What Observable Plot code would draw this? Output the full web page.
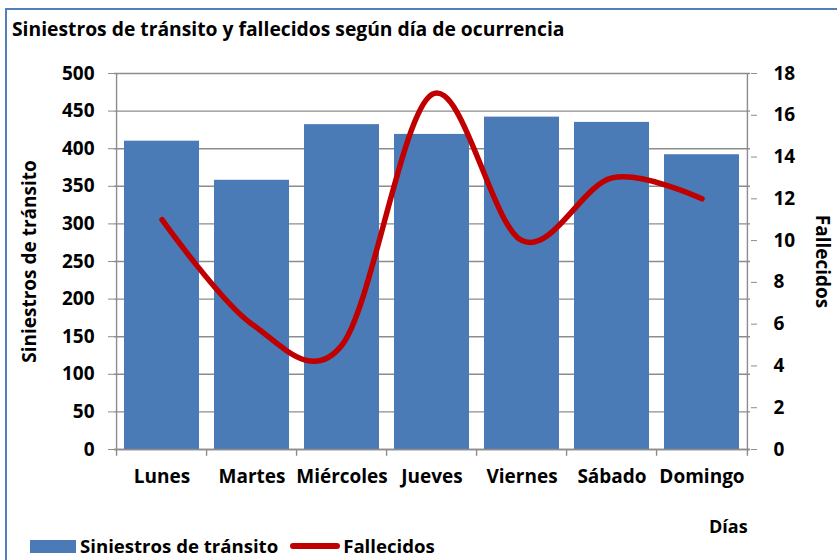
<!DOCTYPE html>
<html>
<head>
<meta charset="utf-8">
<script src="https://cdn.jsdelivr.net/npm/d3@7"></script>
<script src="https://cdn.jsdelivr.net/npm/@observablehq/plot@0.6"></script>
<style>
  html, body { margin: 0; padding: 0; background: #fff; }
  body { width: 837px; height: 560px; overflow: hidden; position: relative; font-family: "Open Sans", sans-serif; font-weight: bold; color: #000; }
  #frame { position: absolute; left: 5px; top: 8px; width: 900px; height: 700px; border: 2px solid #4f7fbd; box-sizing: border-box; }
  #chart { position: absolute; left: 0; top: 0; }
  .t { position: absolute; white-space: nowrap; font-weight: bold; line-height: 1; }
  #title { left: 12px; top: 19px; font-size: 19.3px; }
  #dias { left: 709px; top: 517px; font-size: 18px; }
  #legend { position: absolute; left: 30px; top: 537px; font-size: 18.6px; line-height: 1; display: flex; align-items: center; }
  .sw-bar { width: 46px; height: 13px; background: #4a7bb7; display: inline-block; margin-right: 4px; }
  .sw-line { width: 50px; height: 6px; border-radius: 3px; background: #c00000; display: inline-block; margin: 0 3px 0 12px; }
</style>
</head>
<body>
<div id="frame"></div>
<div id="chart"></div>
<div id="title" class="t">Siniestros de tránsito y fallecidos según día de ocurrencia</div>
<div id="dias" class="t">Días</div>
<div id="legend"><span class="sw-bar"></span><span>Siniestros de tránsito</span><span class="sw-line"></span><span>Fallecidos</span></div>
<script>
const days = ["Lunes", "Martes", "Miércoles", "Jueves", "Viernes", "Sábado", "Domingo"];
const siniestros = [410, 358, 432, 419, 442, 435, 392];
const fallecidos = [11, 6, 5, 17, 10, 13, 12];
const leftTicks = [0, 50, 100, 150, 200, 250, 300, 350, 400, 450, 500];
const rightTicks = [0, 2, 4, 6, 8, 10, 12, 14, 16, 18];

const yMax = 500, rMax = 18, k = yMax / rMax;
const data = days.map((d, i) => ({day: d, s: siniestros[i], f: fallecidos[i]}));

const W = 837, H = 560, mL = 114, mR = 87, mT = 73, mB = 111;
const step = (W - mL - mR) / days.length;
const gray = "#8c8c8c";
const pad = 0.165;
const font = "'Open Sans', sans-serif";

const chart = Plot.plot({
  width: W, height: H,
  marginLeft: mL, marginRight: mR, marginTop: mT, marginBottom: mB,
  style: {fontFamily: font, fontWeight: "bold", fontSize: "19px", color: "#000", background: "transparent"},
  x: {type: "band", domain: days, paddingInner: pad, paddingOuter: pad / 2, label: null},
  y: {domain: [0, yMax], label: null},
  marks: [
    Plot.gridY(leftTicks, {stroke: gray, strokeOpacity: 1, strokeWidth: 1.4}),
    Plot.barY(data, {x: "day", y: "s", fill: "#4a7bb7"}),
    Plot.ruleY([0], {stroke: gray, strokeWidth: 1.4}),
    Plot.ruleX(days, {x: d => d, dx: -step / 2, y1: 0, y2: -9, stroke: gray, strokeWidth: 1.4}),
    Plot.ruleX([days[days.length - 1]], {x: d => d, dx: step / 2, y1: 0, y2: -9, stroke: gray, strokeWidth: 1.4}),
    Plot.ruleX([days[0]], {x: d => d, dx: -step / 2, y1: 0, y2: yMax, stroke: gray, strokeWidth: 1.4}),
    Plot.ruleX([days[days.length - 1]], {x: d => d, dx: step / 2, y1: 0, y2: yMax, stroke: gray, strokeWidth: 1.4}),
    Plot.axisY(leftTicks, {anchor: "left", tickSize: 6, tickPadding: 14, stroke: gray, fill: "#000", fontSize: 19, fontWeight: "bold", label: null}),
    Plot.axisY(rightTicks.map(v => v * k), {anchor: "right", tickSize: 6, tickPadding: 17, stroke: gray, fill: "#000", fontSize: 19, fontWeight: "bold", tickFormat: d => Math.round(d / k), label: null}),
    Plot.axisX(days, {anchor: "bottom", tickSize: 0, tickPadding: 20, fill: "#000", fontSize: 19, fontWeight: "bold", label: null}),
    Plot.line(data, {x: "day", y: d => d.f * k, curve: "cardinal", stroke: "#c00000", strokeWidth: 5.5}),
    Plot.text(["Siniestros de tránsito"], {frameAnchor: "left", textAnchor: "middle", dx: -85, rotate: -90, fontSize: 19, fontWeight: "bold", fill: "#000"}),
    Plot.text(["Fallecidos"], {frameAnchor: "right", textAnchor: "middle", dx: 72, rotate: 90, fontSize: 19, fontWeight: "bold", fill: "#000"})
  ]
});
document.getElementById("chart").appendChild(chart);
</script>
</body>
</html>
